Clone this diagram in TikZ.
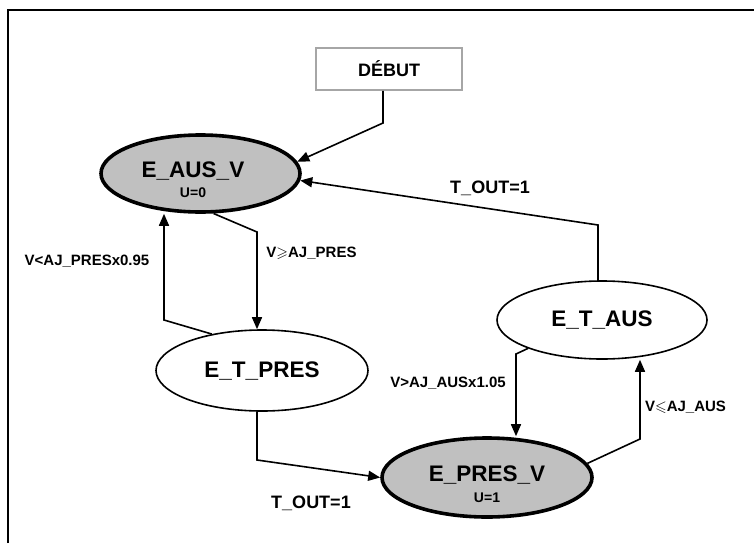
\documentclass[tikz,border=0pt]{standalone}
\usepackage{amssymb}
\usepackage{fontspec}
\setmainfont{Liberation Sans}
\usetikzlibrary{positioning,arrows.meta,shapes.geometric}
\definecolor{grisetat}{RGB}{192,192,192}

\begin{document}
\begin{tikzpicture}[x=1pt, y=-1pt,
  etat/.style={draw, ellipse, line width=1.6pt, fill=white, minimum width=210pt, minimum height=78pt, inner sep=0pt},
  actif/.style={etat, line width=3.6pt, fill=grisetat},
  nom/.style={font=\fontsize{22.5}{25}\selectfont\bfseries, inner sep=0pt, anchor=base},
  sortie/.style={font=\fontsize{14}{16}\selectfont\bfseries, inner sep=0pt, anchor=base},
  cond/.style={font=\fontsize{15}{17}\selectfont\bfseries, inner sep=0pt},
  tout/.style={font=\fontsize{18}{20}\selectfont\bfseries, inner sep=0pt},
  arr/.style={-{Triangle[length=12pt,width=10pt]}, line width=1.6pt}
]
\useasboundingbox (0,0) rectangle (754,543);
\draw[line width=1.6pt] (8,543) |- (754,10);

% etats
\node[draw=gray!70, line width=1.5pt, minimum width=146pt, minimum height=42pt,
  font=\fontsize{18}{20}\selectfont\bfseries] (debut) at (389,69) {DÉBUT};
\node[actif, minimum width=199pt, minimum height=77pt] (aus) at (200.5,173.5) {};
\node[nom] (ausnom) at ([xshift=-7.5pt, yshift=-4pt]aus.center) {E\_AUS\_V};
\node[sortie] (ausu) at ([xshift=-7.5pt, yshift=-24pt]aus.center) {U=0};
\node[etat, minimum width=212pt, minimum height=81pt] (tres) at (262,370.5) {};
\node[nom] (tresnom) at ([yshift=-7pt]tres.center) {E\_T\_PRES};
\node[etat] (taus) at (602,320) {};
\node[nom] (tausnom) at ([yshift=-6.5pt]taus.center) {E\_T\_AUS};
\node[actif, minimum height=79pt] (pres) at (487,477.5) {};
\node[nom] (presnom) at ([yshift=-4pt]pres.center) {E\_PRES\_V};
\node[sortie] (presu) at ([yshift=-25pt]pres.center) {U=1};

% conditions
\node[cond] (c1) at (87,261) {V<AJ\_PRESx0.95};
\node[cond] (c2) at (311.5,253) {V$\geqslant$AJ\_PRES};
\node[cond] (c3) at (448,383) {V>AJ\_AUSx1.05};
\node[cond] (c4) at (685.5,407) {V$\leqslant$AJ\_AUS};
\node[tout] (t1) at (490,188) {T\_OUT=1};
\node[tout] (t2) at (311,503) {T\_OUT=1};

% transitions
\coordinate (k0) at (383,123);
\draw[arr] (k0 |- debut.south) -- (k0) -- (aus.7);
\coordinate (k1) at (257,232);
\draw[arr] (aus.-72) -- (k1) -- (k1 |- tres.north);
\coordinate (k2) at (164,320);
\draw[arr] (tres.144) -- (k2) -- (k2 |- aus.south);
\coordinate (k3) at (598,225);
\draw[arr] (k3 |- taus.north) -- (k3) -- (aus.-4);
\coordinate (k4) at (516,354);
\draw[arr] (taus.201) -- (k4) -- (k4 |- pres.north);
\coordinate (k5) at (640,439);
\draw[arr] (pres.8) -- (k5) -- (k5 |- taus.south);
\coordinate (k6) at (257,460);
\draw[arr] (k6 |- tres.south) -- (k6) -- (pres.west);
\end{tikzpicture}
\end{document}
